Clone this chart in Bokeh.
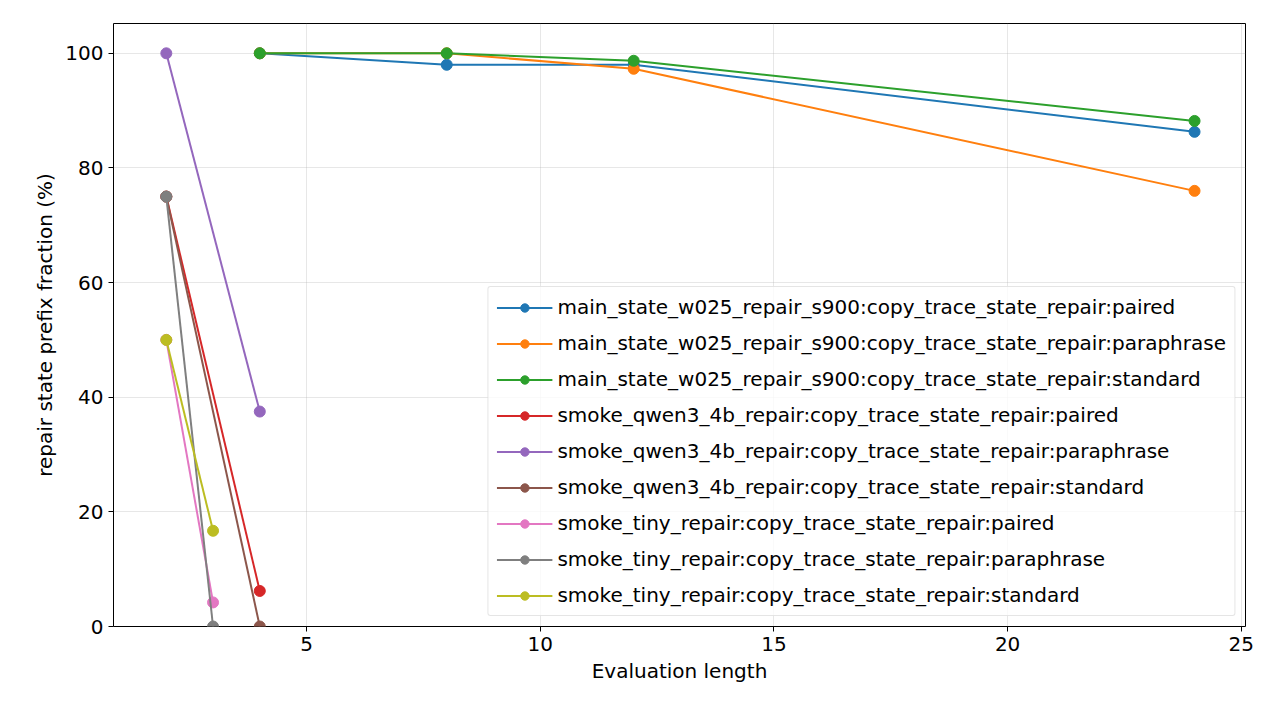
from bokeh.plotting import figure
from bokeh.models import Range1d, FixedTicker, Legend, LegendItem
from bokeh.embed import file_html
from bokeh.resources import INLINE

names = [
    "main_state_w025_repair_s900:copy_trace_state_repair:paired",
    "main_state_w025_repair_s900:copy_trace_state_repair:paraphrase",
    "main_state_w025_repair_s900:copy_trace_state_repair:standard",
    "smoke_qwen3_4b_repair:copy_trace_state_repair:paired",
    "smoke_qwen3_4b_repair:copy_trace_state_repair:paraphrase",
    "smoke_qwen3_4b_repair:copy_trace_state_repair:standard",
    "smoke_tiny_repair:copy_trace_state_repair:paired",
    "smoke_tiny_repair:copy_trace_state_repair:paraphrase",
    "smoke_tiny_repair:copy_trace_state_repair:standard",
]
xs = [
    [4, 8, 12, 24], [4, 8, 12, 24], [4, 8, 12, 24],
    [2, 4], [2, 4], [2, 4],
    [2, 3], [2, 3], [2, 3],
]
ys = [
    [100, 98.0, 98.0, 86.3],
    [100, 100, 97.3, 76.0],
    [100, 100, 98.7, 88.2],
    [75, 6.2],
    [100, 37.5],
    [75, 0],
    [50, 4.2],
    [75, 0],
    [50, 16.7],
]
colors = ["#1f77b4", "#ff7f0e", "#2ca02c", "#d62728", "#9467bd",
          "#8c564b", "#e377c2", "#7f7f7f", "#bcbd22"]

FS = "20px"
p = figure(frame_width=1132, frame_height=603,
           output_backend="svg", toolbar_location=None,
           x_range=Range1d(0.87, 25.09), y_range=Range1d(0, 105.2),
           min_border_left=113, min_border_right=27, min_border_top=23, min_border_bottom=80)
p.outline_line_color = "black"
p.xaxis.ticker = FixedTicker(ticks=[5, 10, 15, 20, 25])
p.yaxis.ticker = FixedTicker(ticks=[0, 20, 40, 60, 80, 100])
p.xaxis.axis_label = "Evaluation length"
p.yaxis.axis_label = "repair state prefix fraction (%)"
for ax in (p.xaxis, p.yaxis):
    ax.axis_label_text_font = "DejaVu Sans"
    ax.axis_label_text_font_style = "normal"
    ax.axis_label_text_font_size = FS
    ax.axis_label_text_color = "black"
    ax.major_label_text_font = "DejaVu Sans"
    ax.major_label_text_font_size = FS
    ax.major_label_text_color = "black"
    ax.minor_tick_line_color = None
    ax.major_tick_out = 5
    ax.major_tick_in = 0
    ax.axis_line_color = None
p.grid.grid_line_color = "#b0b0b0"
p.grid.grid_line_alpha = 0.3

items = []
for n, x, y, c in zip(names, xs, ys, colors):
    l = p.line(x, y, line_color=c, line_width=2)
    s = p.scatter(x, y, size=11, fill_color=c, line_color=c)
    items.append(LegendItem(label=n, renderers=[l, s]))

leg = Legend(items=items, location="bottom_right")
leg.label_text_font = "DejaVu Sans"
leg.label_text_font_size = FS
leg.label_text_color = "black"
leg.label_height = 21
leg.glyph_height = 21
leg.glyph_width = 56
leg.spacing = 12
leg.padding = 8
leg.margin = 10
leg.border_line_color = "#cccccc"
leg.background_fill_alpha = 0.8
leg.border_radius = 3
p.add_layout(leg)

open("out.html", "w").write(file_html(p, INLINE))
